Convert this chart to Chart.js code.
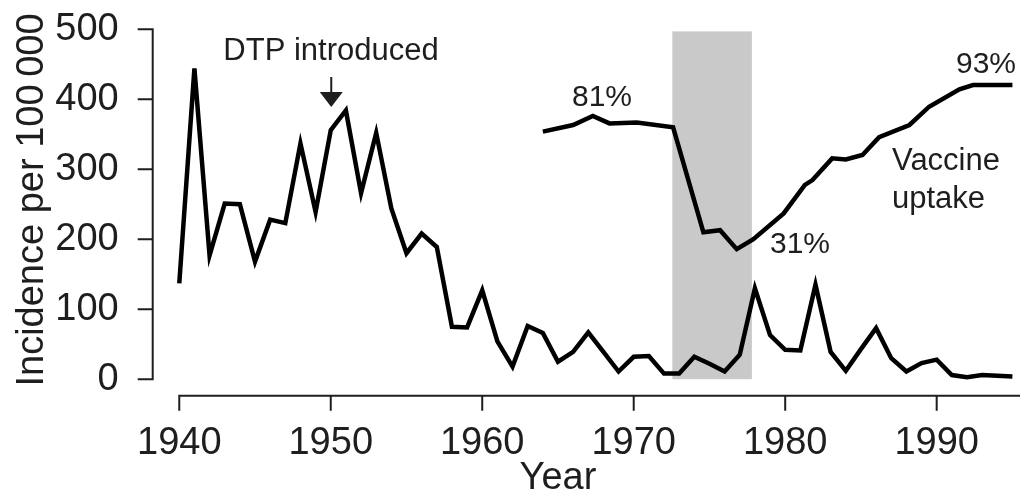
<!DOCTYPE html>
<html><head><meta charset="utf-8">
<script src="https://cdn.jsdelivr.net/npm/chart.js@4"></script>
<style>html,body{margin:0;padding:0;background:#fff}#wrap{width:1020px;height:490px}</style>
</head><body><div id="wrap"><canvas id="c" width="1020" height="490"></canvas></div>
<script>
const incidenceYears = [1940,1941,1942,1943,1944,1945,1946,1947,1948,1949,
  1950,1951,1952,1953,1954,1955,1956,1957,1958,1959,
  1960,1961,1962,1963,1964,1965,1966,1967,1968,1969,
  1970,1971,1972,1973,1974,1975,1976,1977,1978,1979,
  1980,1981,1982,1983,1984,1985,1986,1987,1988,1989,
  1990,1991,1992,1993,1994,1995];
const incidence = [137,444,177,251,250,168,228,223,337,239,
  356,384,266,352,244,180,208,189,75,74,
  127,54,18,76,66,25,39,67,39,11,
  32,33,8,8,32,22,11,35,130,63,
  42,41,135,39,12,43,73,30,11,23,
  28,6,3,6,5,4];
const uptakeYears = [1964,1966,1967.3,1968.4,1970.2,1972.6,1974.6,1975.7,1976.8,1977.9,
  1979.9,1981.3,1981.8,1983.1,1984.0,1985.1,1986.2,1988.2,1989.5,1991.5,1992.4,1995];
const uptakePct = [75.4,77.9,81.3,78.5,78.8,77.0,37.4,38.2,31.0,34.8,
  44.5,55.3,57.1,65.3,64.9,66.6,73.3,77.9,84.8,91.4,93.0,93.0];
const xTicks = [1940,1950,1960,1970,1980,1990];
const yTicks = [0,100,200,300,400,500];
const shadedPeriod = [1972.55, 1977.8];
const annotations = [
  {text:'DTP introduced', x:331, y:60, size:31, align:'center'},
  {text:'81%', x:602, y:106, size:30, align:'center'},
  {text:'31%', x:800, y:253, size:30, align:'center'},
  {text:'93%', x:986, y:73, size:30, align:'center'},
  {text:'Vaccine', x:892, y:170, size:31, align:'left'},
  {text:'uptake', x:892, y:208, size:31, align:'left'}
];

const FONT = "'Liberation Sans', Arial, sans-serif";
const INK = '#1e1e1e';

const overlay = {
  id: 'overlay',
  beforeDatasetsDraw(chart) {
    const {ctx, scales: {x, y}} = chart;
    ctx.save();
    ctx.fillStyle = '#c9c9c9';
    const l = x.getPixelForValue(shadedPeriod[0]), r = x.getPixelForValue(shadedPeriod[1]);
    const t = y.getPixelForValue(497), b = y.getPixelForValue(0);
    ctx.fillRect(l, t, r - l, b - t);
    ctx.restore();
  },
  afterDraw(chart) {
    const {ctx, scales: {x, y}, chartArea} = chart;
    ctx.save();
    ctx.strokeStyle = INK; ctx.lineWidth = 2; ctx.lineCap = 'butt';
    const ax = chartArea.left + 1;
    ctx.beginPath();
    ctx.moveTo(ax, y.getPixelForValue(0) + 1); ctx.lineTo(ax, y.getPixelForValue(500) - 1);
    yTicks.forEach(v => { const py = y.getPixelForValue(v); ctx.moveTo(ax - 15, py); ctx.lineTo(ax, py); });
    ctx.stroke();
    const ay = chartArea.bottom - 1;
    ctx.beginPath();
    ctx.moveTo(x.getPixelForValue(1940) - 1, ay); ctx.lineTo(chart.width, ay);
    xTicks.forEach(v => { const px = x.getPixelForValue(v); ctx.moveTo(px, ay); ctx.lineTo(px, ay + 15); });
    ctx.stroke();
    ctx.fillStyle = INK;
    ctx.font = '38px ' + FONT;
    ctx.textAlign = 'center'; ctx.textBaseline = 'alphabetic';
    ctx.fillText('Year', 558, 489);
    ctx.save();
    ctx.translate(43, 200); ctx.rotate(-Math.PI / 2);
    ctx.fillText('Incidence per 100\u2009000', 0, 0);
    ctx.restore();
    annotations.forEach(a => {
      ctx.font = a.size + 'px ' + FONT;
      ctx.textAlign = a.align;
      ctx.fillText(a.text, a.x, a.y);
    });
    const axp = x.getPixelForValue(1950) + 0.5;
    ctx.beginPath(); ctx.moveTo(axp, 77); ctx.lineTo(axp, 94); ctx.stroke();
    ctx.beginPath(); ctx.moveTo(axp - 11.5, 92); ctx.lineTo(axp + 11.5, 92); ctx.lineTo(axp, 107); ctx.closePath(); ctx.fill();
    ctx.restore();
  }
};

new Chart(document.getElementById('c'), {
  type: 'line',
  data: {
    datasets: [
      {data: incidenceYears.map((yr, i) => ({x: yr, y: incidence[i]})), borderColor: '#000', borderWidth: 4.5,
       pointRadius: 0, tension: 0, fill: false, yAxisID: 'y', borderJoinStyle: 'miter'},
      {data: uptakeYears.map((yr, i) => ({x: yr, y: uptakePct[i]})), borderColor: '#000', borderWidth: 4.5,
       pointRadius: 0, tension: 0, fill: false, yAxisID: 'y2', borderJoinStyle: 'miter'}
    ]
  },
  options: {
    responsive: false, animation: false, devicePixelRatio: 1,
    layout: {padding: {top: 29.3, right: 0, bottom: 0, left: 0}},
    plugins: {legend: {display: false}, tooltip: {enabled: false}},
    scales: {
      x: {type: 'linear', min: 1938.18, max: 1995.5,
        afterBuildTicks: s => { s.ticks = xTicks.map(v => ({value: v})); },
        afterFit: s => { s.height = 93.3; s.paddingLeft = 0; s.paddingRight = 0; },
        grid: {display: false}, border: {display: false},
        ticks: {font: {family: FONT, size: 38}, color: INK, padding: 16, maxRotation: 0, autoSkip: false,
          callback: v => String(v)}},
      y: {type: 'linear', min: -25, max: 500,
        afterBuildTicks: s => { s.ticks = yTicks.map(v => ({value: v})); },
        afterFit: s => { s.width = 151.7; s.paddingTop = 0; s.paddingBottom = 0; },
        grid: {display: false}, border: {display: false},
        ticks: {font: {family: FONT, size: 38}, color: INK, padding: 25, callback: v => String(v)}},
      y2: {type: 'linear', display: false, min: -24.68, max: 114.03}
    }
  },
  plugins: [overlay]
});
</script></body></html>
